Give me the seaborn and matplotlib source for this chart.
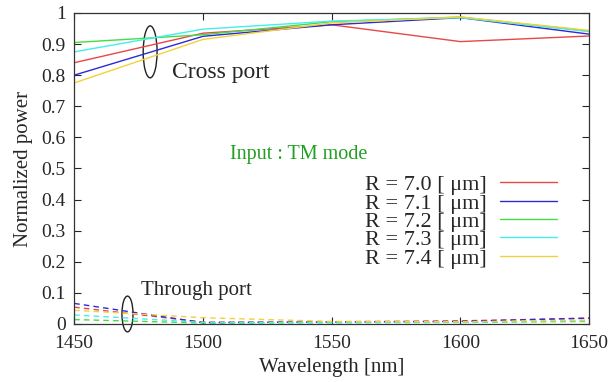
import matplotlib
matplotlib.use('Agg')
import matplotlib.pyplot as plt
from matplotlib.patches import Ellipse
import seaborn as sns
import pandas as pd

# Dados
wavelength = [1450, 1500, 1550, 1600, 1650]
radius_labels = ['R = 7.0 [ μm]', 'R = 7.1 [ μm]', 'R = 7.2 [ μm]', 'R = 7.3 [ μm]', 'R = 7.4 [ μm]']
colors = ['#e8474a', '#2b2bd6', '#44dd44', '#44eeee', '#f2d13a']

cross_r70 = [0.840, 0.935, 0.962, 0.908, 0.926]
cross_r71 = [0.800, 0.925, 0.962, 0.985, 0.932]
cross_r72 = [0.905, 0.930, 0.972, 0.987, 0.942]
cross_r73 = [0.875, 0.948, 0.974, 0.985, 0.940]
cross_r74 = [0.775, 0.915, 0.968, 0.987, 0.944]

through_r70 = [0.054, 0.006, 0.007, 0.010, 0.018]
through_r71 = [0.066, 0.004, 0.006, 0.008, 0.019]
through_r72 = [0.014, 0.003, 0.004, 0.005, 0.008]
through_r73 = [0.029, 0.005, 0.005, 0.006, 0.010]
through_r74 = [0.044, 0.020, 0.008, 0.007, 0.012]

cross = [cross_r70, cross_r71, cross_r72, cross_r73, cross_r74]
through = [through_r70, through_r71, through_r72, through_r73, through_r74]

sns.set_style('ticks')
plt.rcParams['font.family'] = ['Liberation Serif', 'DejaVu Serif']

fig = plt.figure(figsize=(6.08, 3.82), dpi=100)
ax = fig.add_axes([0.122, 0.152, 0.847, 0.814])

for lab, col, c_vals, t_vals in zip(radius_labels, colors, cross, through):
    df_c = pd.DataFrame({'wl': wavelength, 'p': c_vals})
    df_t = pd.DataFrame({'wl': wavelength, 'p': t_vals})
    sns.lineplot(data=df_c, x='wl', y='p', color=col, linewidth=1.0, label=lab, ax=ax)
    sns.lineplot(data=df_t, x='wl', y='p', color=col, linewidth=1.0, linestyle=(0, (4, 3)), ax=ax)

ax.set_xlim(1450, 1650)
ax.set_ylim(0, 1)
ax.set_xticks([1450, 1500, 1550, 1600, 1650])
ax.set_yticks([0, 0.1, 0.2, 0.3, 0.4, 0.5, 0.6, 0.7, 0.8, 0.9, 1])
ax.set_yticklabels(['0', '0.1', '0.2', '0.3', '0.4', '0.5', '0.6', '0.7', '0.8', '0.9', '1'])
ax.tick_params(direction='in', top=True, right=True, labelsize=14, length=5, width=0.8)
ax.tick_params(axis='x', pad=8)
ax.tick_params(axis='y', pad=6)
for s in ax.spines.values():
    s.set_linewidth(0.9)
    s.set_color('#333333')

ax.set_xlabel('Wavelength [nm]', fontsize=15, labelpad=4)
ax.set_ylabel('Normalized power', fontsize=15, labelpad=6)

# Anotacoes
ax.add_patch(Ellipse((1479.5, 0.875), 5.4, 0.167, fill=False, color='#222222', linewidth=1.0))
ax.add_patch(Ellipse((1470.7, 0.032), 4.3, 0.115, fill=False, color='#222222', linewidth=1.0,
                     clip_on=False))
ax.text(1488, 0.81, 'Cross port', fontsize=17, va='center')
ax.text(1476, 0.108, 'Through port', fontsize=15, va='center')
ax.text(1537, 0.545, 'Input : TM mode', fontsize=14.5, color='#20a020', ha='center', va='center')

leg = ax.legend(loc='upper right', bbox_to_anchor=(0.967, 0.53), frameon=False, fontsize=16,
                markerfirst=False, labelspacing=-0.1, handlelength=2.55, handletextpad=0.6,
                borderpad=0.2)

plt.savefig('out.png', dpi=100)
